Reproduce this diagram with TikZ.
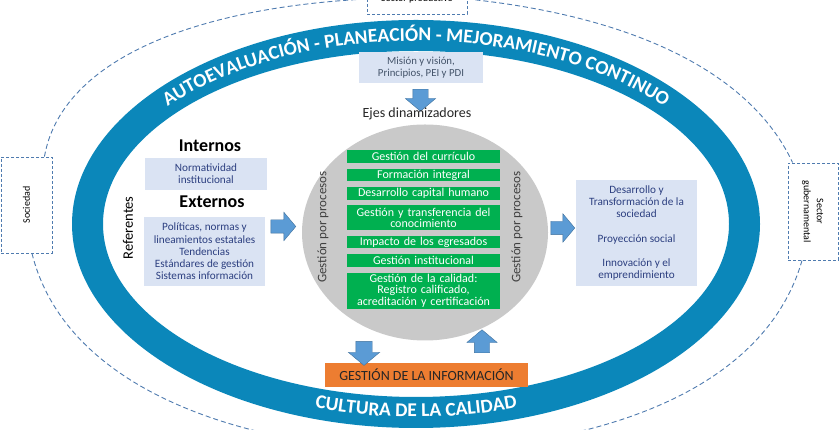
\documentclass[tikz,border=0pt]{standalone}
\usepackage{fontspec}
\setmainfont{Carlito}
\usetikzlibrary{shapes.geometric,shapes.arrows,positioning,decorations.text}
\usepackage{xcolor}
\definecolor{ringblue}{HTML}{0B87BA}
\definecolor{boxblue}{HTML}{DAE3F3}
\definecolor{ejegreen}{HTML}{00B050}
\definecolor{infoorange}{HTML}{ED7D31}
\definecolor{arrowblue}{HTML}{5B9BD5}
\definecolor{arrowedge}{HTML}{41719C}
\definecolor{coregray}{HTML}{C9C9C9}
\definecolor{dashblue}{HTML}{4F7BAF}
\definecolor{navytext}{HTML}{2C3F80}
\definecolor{slatetext}{HTML}{44546A}
\newcommand{\fsz}[2]{\fontsize{#1}{#2}\selectfont}
\newcommand{\ringfont}{\fontsize{19.5}{20}\selectfont\bfseries}

\begin{document}
\begin{tikzpicture}[x=1pt,y=1pt]
\tikzstyle{sector}=[draw=dashblue, dash pattern=on 3pt off 2pt, line width=0.9pt, fill=white, inner sep=1pt, font=\fsz{10}{13}, align=center];
\tikzstyle{lbox}=[fill=boxblue, align=center, inner sep=1pt, text=navytext, font=\fsz{11.2}{12.3}];
\tikzstyle{eje}=[fill=ejegreen, text=white, align=center, text width=151pt, minimum width=153pt, minimum height=12.5pt, inner xsep=1pt, inner ysep=0pt, font=\fsz{12}{11.8}];
\tikzstyle{flecha}=[single arrow, fill=arrowblue, draw=arrowedge, line width=0.4pt, inner sep=0pt, single arrow head extend=7.5pt, single arrow tip angle=100];
\tikzstyle{enlace}=[draw=dashblue, line width=0.9pt, dash pattern=on 5pt off 3pt];
\useasboundingbox (0,0) rectangle (840,430);
\clip (0,0) rectangle (840,430);

\node (productivo) [sector, minimum width=100pt, minimum height=30pt] at (417,431) {Sector productivo};
\node (sociedad) [sector, minimum width=51pt, minimum height=96pt] at (26.5,225) {\rotatebox{90}{Sociedad}};
\node (guber) [sector, minimum width=50pt, minimum height=97pt] at (813,218.5) {\rotatebox{-90}{\begin{tabular}{@{}c@{}}Sector\\gubernamental\end{tabular}}};
\coordinate (abajo) at (416,-20);
\draw[enlace] ([xshift=-8pt]sociedad.north east) .. controls +(80:95) and +(183:180) .. (productivo.west);
\draw[enlace] (productivo.east) .. controls +(-6:175) and +(115:95) .. ([xshift=5pt]guber.north west);
\draw[enlace] ([xshift=5.5pt]sociedad.south) .. controls +(-76:150) and +(180:150) .. (abajo);
\draw[enlace] ([xshift=-11pt]guber.south) .. controls +(-106:150) and +(0:150) .. (abajo);

\coordinate (c) at (416,206);
\fill[ringblue, even odd rule] (c) ellipse [x radius=344pt, y radius=204pt] (c) ellipse [x radius=313pt, y radius=173pt];
\path[decorate, decoration={text along path, text align=center, text color=white,
  text={|\ringfont|AUTOEVALUACIÓN - PLANEACIÓN - MEJORAMIENTO CONTINUO}}]
  (c) ++(160:323pt and 183pt) arc [start angle=160, end angle=20, x radius=323pt, y radius=183pt];
\path[decorate, decoration={text along path, text align=center, text color=white,
  text={|\ringfont|CULTURA DE LA CALIDAD}}]
  (c) ++(230:333pt and 193pt) arc [start angle=230, end angle=310, x radius=333pt, y radius=193pt];

\node (core) [ellipse, fill=coregray, minimum width=246pt, minimum height=216pt] at (425,197.5) {};
\node (g1) [eje] at (423.5,273.5) {Gestión del currículo};
\node (g2) [eje, below=5.5pt of g1] {Formación integral};
\node (g3) [eje, below=5.5pt of g2] {Desarrollo capital humano};
\node (g4) [eje, below=5.5pt of g3, minimum height=25pt] {Gestión y transferencia del\\conocimiento};
\node (g5) [eje, below=5pt of g4] {Impacto de los egresados};
\node (g6) [eje, below=5.5pt of g5] {Gestión institucional};
\node (g7) [eje, below=5.5pt of g6, minimum height=36pt] {Gestión de la calidad:\\Registro calificado,\\acreditación y certificación};
\node (procizq) [rotate=90, text=black!75, font=\fsz{13}{15}] at (323,203) {Gestión por procesos};
\node (procder) [rotate=90, text=black!75, font=\fsz{13}{15}] at (517,203) {Gestión por procesos};

\node (mision) [lbox, text=slatetext, font=\fsz{10.8}{12.3}, minimum width=124pt, minimum height=31pt] at (421,362.5) {Misión y visión,\\Principios, PEI y PDI};
\node (bajada) [flecha, rotate=-90, minimum height=22pt] at (420.5,333) {\rule{0pt}{15pt}};
\node (ejes) [font=\fsz{14}{16}, text=black!85] at (417,316) {Ejes dinamizadores};

\node (internos) [font=\fsz{18}{20}\bfseries] at (210,284) {Internos};
\node (normativa) [lbox, minimum width=122pt, minimum height=32pt] at (206,256) {Normatividad\\institucional};
\node (externos) [font=\fsz{18}{20}\bfseries] at (212,228) {Externos};
\node (politicas) [lbox, minimum width=121pt, minimum height=69pt] at (204.5,178.5) {Políticas, normas y\\lineamientos estatales\\Tendencias\\Estándares de gestión\\Sistemas información};
\node (referentes) [rotate=90, font=\fsz{14.5}{16}] at (128,202) {Referentes};
\node (entrada) [flecha, minimum height=25pt] at (280.5,203.5) {\rule{0pt}{13pt}};

\node (salida) [flecha, minimum height=24pt] at (560,202) {\rule{0pt}{13pt}};
\node (impacto) [lbox, minimum width=121pt, minimum height=106pt] at (636.5,197) {Desarrollo y\\Transformación de la\\sociedad\\[12pt]Proyección social\\[12pt]Innovación y el\\emprendimiento};

\node (info) [fill=infoorange, minimum width=203pt, minimum height=24pt, font=\fsz{14}{16}, text=black!85] at (426.5,55) {GESTIÓN DE LA INFORMACIÓN};
\node (haciainfo) [flecha, rotate=-90, minimum height=24pt] at (364,80) {\rule{0pt}{16pt}};
\node (desdeinfo) [flecha, rotate=90, minimum height=23pt] at (482,85.5) {\rule{0pt}{15pt}};
\end{tikzpicture}
\end{document}
